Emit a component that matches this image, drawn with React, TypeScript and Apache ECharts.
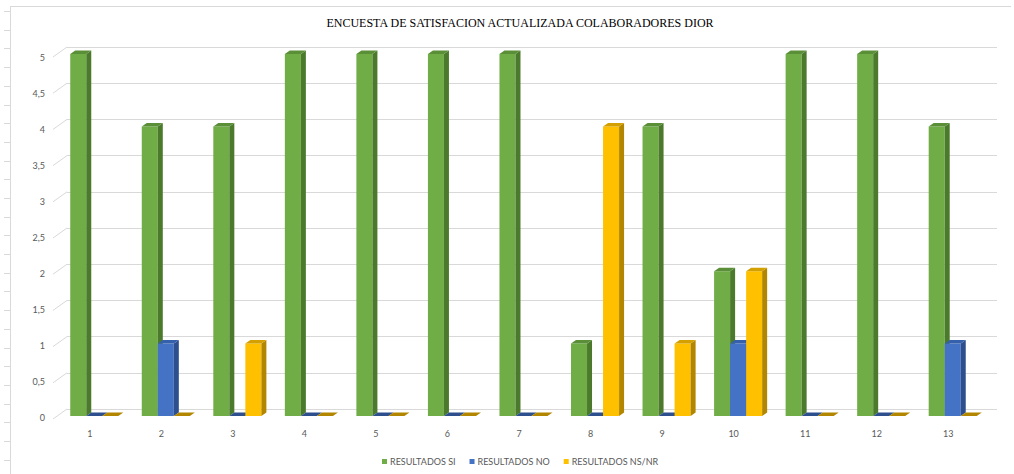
import React, { useEffect, useRef } from "react";
import * as echarts from "echarts";

// Survey results per question (1..13)
const categories = ["1", "2", "3", "4", "5", "6", "7", "8", "9", "10", "11", "12", "13"];
const resultadosSi = [5, 4, 4, 5, 5, 5, 5, 1, 4, 2, 5, 5, 4];
const resultadosNo = [0, 1, 0, 0, 0, 0, 0, 0, 0, 1, 0, 0, 1];
const resultadosNsNr = [0, 0, 1, 0, 0, 0, 0, 4, 1, 2, 0, 0, 0];
const yTickValues = [0, 0.5, 1, 1.5, 2, 2.5, 3, 3.5, 4, 4.5, 5];

const chartTitle = "ENCUESTA DE SATISFACION ACTUALIZADA COLABORADORES DIOR";
const seriesNames = ["RESULTADOS SI", "RESULTADOS NO", "RESULTADOS NS/NR"];
// front / side / top shading for each series
const palettes = [
  { front: "#70AD47", side: "#4B7A2D", top: "#5A8F38" },
  { front: "#4472C4", side: "#2D4F8E", top: "#3560AC" },
  { front: "#FFC000", side: "#B38600", top: "#D4A000" },
];

// 3D look: bars sit in front of the back wall, with a small extruded depth
const FRONT_DX = -8.5;
const FRONT_DY = 7;
const DEPTH_X = 5;
const DEPTH_Y = -3.5;
const BAR_FRACTION = 0.224;

const axisText = { color: "#595959", fontSize: 9, fontFamily: "Lato" };

function makeBarRenderer(k: number) {
  const pal = palettes[k];
  return (params: any, api: any) => {
    const cat = api.value(0);
    const v = api.value(1);
    const top = api.coord([cat, v]);
    const base = api.coord([cat, 0]);
    const band = api.size([1, 0])[0];
    const bw = band * BAR_FRACTION;
    const x0 = top[0] + FRONT_DX + (k - 1.5) * bw;
    const x1 = x0 + bw;
    const yT = top[1] + FRONT_DY;
    const yB = base[1] + FRONT_DY;
    const children: any[] = [];
    if (v > 0) {
      children.push({
        type: "rect",
        shape: { x: x0, y: yT, width: bw, height: yB - yT },
        style: { fill: pal.front },
      });
      children.push({
        type: "polygon",
        shape: {
          points: [
            [x1, yT],
            [x1 + DEPTH_X, yT + DEPTH_Y],
            [x1 + DEPTH_X, yB + DEPTH_Y],
            [x1, yB],
          ],
        },
        style: { fill: pal.side },
      });
    }
    children.push({
      type: "polygon",
      shape: {
        points: [
          [x0, yT],
          [x1, yT],
          [x1 + DEPTH_X, yT + DEPTH_Y],
          [x0 + DEPTH_X, yT + DEPTH_Y],
        ],
      },
      style: { fill: v > 0 ? pal.top : pal.side },
    });
    return { type: "group", children };
  };
}

// short slanted connectors from the value labels to the back wall
function renderWallTick(params: any, api: any) {
  const v = api.value(0);
  const p = api.coord([0, v]);
  const x = params.coordSys.x;
  return {
    type: "line",
    shape: { x1: x - 14, y1: p[1] + 10, x2: x, y2: p[1] },
    style: { stroke: "#D9D9D9", lineWidth: 1 },
  };
}

export default function App() {
  const ref = useRef<HTMLDivElement>(null);

  useEffect(() => {
    if (!ref.current) return;
    const chart = echarts.init(ref.current, undefined, { renderer: "svg" });
    const allSeries = [resultadosSi, resultadosNo, resultadosNsNr];

    const rowLines: any[] = [];
    for (let y = 11; y < 474; y += 18.7) {
      rowLines.push({
        type: "line",
        shape: { x1: 4, y1: Math.round(y) + 0.5, x2: 10, y2: Math.round(y) + 0.5 },
        style: { stroke: "#D9D9D9", lineWidth: 1 },
      });
    }

    chart.setOption({
      animation: false,
      backgroundColor: "#FFFFFF",
      legend: {
        data: seriesNames,
        left: 377,
        top: 452,
        icon: "rect",
        itemWidth: 5,
        itemHeight: 5,
        itemGap: 14,
        textStyle: { ...axisText, padding: [0, 0, 0, -2] },
      },
      graphic: [
        {
          type: "text",
          x: 520,
          y: 23,
          style: {
            text: chartTitle,
            fill: "#000000",
            fontFamily: "Liberation Serif",
            fontSize: 12,
            fontWeight: "normal",
            align: "center",
            verticalAlign: "middle",
          },
        },
        {
          type: "line",
          shape: { x1: 10, y1: 6.5, x2: 1011, y2: 6.5 },
          style: { stroke: "#D9D9D9", lineWidth: 1 },
        },
        {
          type: "line",
          shape: { x1: 10.5, y1: 6, x2: 10.5, y2: 474 },
          style: { stroke: "#D9D9D9", lineWidth: 1 },
        },
        ...rowLines,
      ],
      grid: [
        // back wall: gridlines and bars
        { left: 67, top: 47, width: 930, height: 362 },
        // front plane: value labels
        { left: 67, top: 57, width: 930, height: 360 },
      ],
      xAxis: [
        {
          type: "category",
          gridIndex: 0,
          data: categories,
          axisLine: { show: false },
          axisTick: { show: false },
          axisLabel: { ...axisText, margin: 20, padding: [0, 26, 0, 0] },
        },
        {
          type: "category",
          gridIndex: 1,
          data: categories,
          show: false,
        },
      ],
      yAxis: [
        {
          type: "value",
          gridIndex: 0,
          min: 0,
          max: 5,
          interval: 0.5,
          axisLine: { show: false },
          axisTick: { show: false },
          axisLabel: { show: false },
          splitLine: { lineStyle: { color: "#D9D9D9", width: 1 } },
        },
        {
          type: "value",
          gridIndex: 1,
          min: 0,
          max: 5,
          interval: 0.5,
          axisLine: { show: false },
          axisTick: { show: false },
          splitLine: { show: false },
          axisLabel: {
            ...axisText,
            margin: 22,
            formatter: (v: number) => String(v).replace(".", ","),
          },
        },
      ],
      series: [
        ...allSeries.map((vals, k) => ({
          name: seriesNames[k],
          type: "custom",
          xAxisIndex: 0,
          yAxisIndex: 0,
          itemStyle: { color: palettes[k].front },
          encode: { x: 0, y: 1 },
          data: vals.map((v, i) => [i, v]),
          renderItem: makeBarRenderer(k),
          z: 3 + k,
        })),
        {
          name: "wallTicks",
          type: "custom",
          xAxisIndex: 0,
          yAxisIndex: 0,
          encode: { y: 0 },
          data: yTickValues.map((v) => [v]),
          renderItem: renderWallTick,
          silent: true,
          z: 1,
        },
      ],
    });
    return () => chart.dispose();
  }, []);

  return (
    <div
      ref={ref}
      style={{ position: "fixed", left: 0, top: 0, width: 1014, height: 474 }}
    />
  );
}
